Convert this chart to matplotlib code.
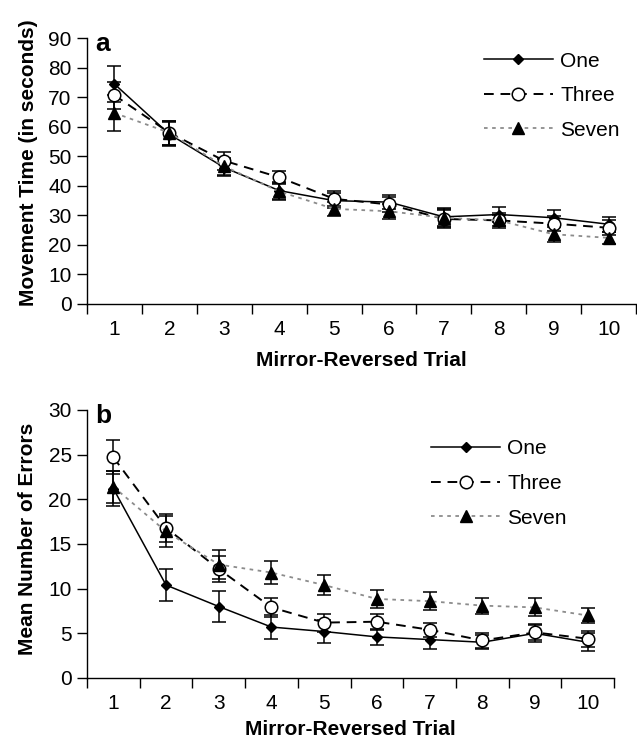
import matplotlib
matplotlib.use('Agg')
import matplotlib.pyplot as plt

plt.rcParams['font.family'] = ['Liberation Sans', 'DejaVu Sans']

trials = [1, 2, 3, 4, 5, 6, 7, 8, 9, 10]
labels = ['One', 'Three', 'Seven']

# panel a: movement time (s)
time_one = [74.5, 57.5, 46.2, 38.4, 35.0, 34.5, 29.5, 30.3, 29.2, 27.0]
time_three = [70.7, 58.0, 48.5, 42.9, 35.6, 33.7, 28.8, 28.3, 27.2, 25.8]
time_seven = [64.7, 58.0, 46.6, 38.1, 32.2, 31.4, 29.2, 28.3, 23.6, 22.4]
time_one_err = [6.0, 4.0, 3.0, 3.0, 2.5, 2.5, 3.0, 2.5, 2.5, 2.5]
time_three_err = [4.5, 4.0, 3.0, 2.3, 2.5, 2.5, 3.0, 2.5, 2.5, 2.5]
time_seven_err = [6.0, 4.0, 3.0, 3.0, 2.5, 2.5, 3.0, 2.0, 2.5, 2.0]

# panel b: mean number of errors
err_one = [21.2, 10.4, 8.0, 5.7, 5.2, 4.6, 4.3, 4.0, 5.0, 4.0]
err_three = [24.7, 16.8, 12.2, 7.9, 6.2, 6.3, 5.4, 4.2, 5.1, 4.4]
err_seven = [21.4, 16.4, 12.7, 11.8, 10.4, 8.85, 8.6, 8.1, 7.9, 7.0]
err_one_se = [2.0, 1.8, 1.7, 1.3, 1.3, 0.9, 1.1, 0.8, 1.0, 1.0]
err_three_se = [1.9, 1.6, 1.5, 1.1, 1.0, 0.9, 0.8, 0.8, 0.8, 0.9]
err_seven_se = [1.8, 1.7, 1.6, 1.3, 1.1, 1.0, 1.0, 0.9, 1.0, 0.8]

styles = [
    dict(color='black', ls='-', lw=1.1, marker='D', ms=5.5, mfc='black', mec='black'),
    dict(color='black', ls=(0, (5, 3.5)), lw=1.4, marker='o', ms=9, mfc='white', mec='black', mew=1.1),
    dict(color='#8c8c8c', ls=(0, (2, 2.5)), lw=1.3, marker='^', ms=8, mfc='black', mec='black'),
]

fig = plt.figure(figsize=(6.37, 7.43), dpi=100)
ax1 = fig.add_axes([0.1366, 0.5909, 0.862, 0.3576])
ax2 = fig.add_axes([0.1366, 0.0875, 0.8273, 0.3607])


def draw(ax, series, errs, ylim, yticks, ylabel, letter, leg_xy, xpad, xlabelpad, ylab_xy):
    for vals, e in zip(series, errs):
        ax.errorbar(trials, vals, yerr=e, fmt='none', ecolor='black',
                    elinewidth=1.1, capsize=5, capthick=1.1, zorder=2)
    for vals, st, lab in zip(series, styles, labels):
        ax.plot(trials, vals, label=lab, zorder=3, **st)
    ax.set_xlim(0.5, 10.5)
    ax.set_ylim(*ylim)
    ax.set_yticks(yticks)
    ax.set_xticks(trials)
    ax.set_xticks([t + 0.5 for t in [0] + trials], minor=True)
    ax.tick_params(axis='x', which='major', length=0, pad=xpad, labelsize=15)
    ax.tick_params(axis='x', which='minor', length=7, width=1, direction='out')
    ax.tick_params(axis='y', length=7, width=1, pad=4, labelsize=15)
    for s in ['top', 'right']:
        ax.spines[s].set_visible(False)
    for s in ['left', 'bottom']:
        ax.spines[s].set_linewidth(1)
    ax.set_xlabel('Mirror-Reversed Trial', fontsize=15, fontweight='bold', labelpad=xlabelpad)
    ax.set_ylabel(ylabel, fontsize=15, fontweight='bold')
    ax.yaxis.set_label_coords(*ylab_xy)
    ax.text(0.015, 1 - 13 / 268, letter, transform=ax.transAxes, fontsize=19,
            fontweight='bold', va='baseline', ha='left')
    ax.legend(loc='center left', bbox_to_anchor=leg_xy, frameon=False, fontsize=15,
              numpoints=1, handlelength=3.3, handletextpad=0.35, borderpad=0,
              borderaxespad=0, labelspacing=0.75)


draw(ax1, [time_one, time_three, time_seven],
     [time_one_err, time_three_err, time_seven_err],
     (0, 90), range(0, 91, 10), 'Movement Time (in seconds)', 'a', (0.723, 0.784),
     11.5, 9, (-0.090, 0.533))
draw(ax2, [err_one, err_three, err_seven],
     [err_one_se, err_three_se, err_seven_se],
     (0, 30), range(0, 31, 5), 'Mean Number of Errors', 'b', (0.653, 0.726),
     11.5, 5, (-0.094, 0.52))

fig.savefig('out.png', dpi=100)
